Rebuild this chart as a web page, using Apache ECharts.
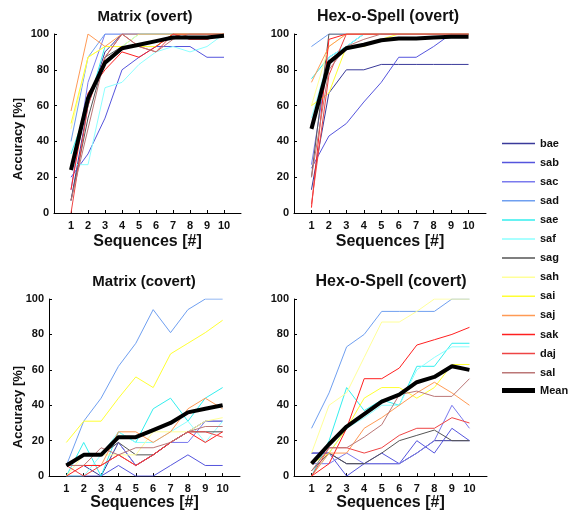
<!DOCTYPE html>
<html>
<head>
<meta charset="utf-8">
<script src="https://cdn.jsdelivr.net/npm/echarts@6/dist/echarts.min.js"></script>
<style>html,body{margin:0;padding:0;background:#fff}#c{width:568px;height:512px}</style>
</head>
<body>
<div id="c"></div>
<script>
var subjects = ['bae','sab','sac','sad','sae','saf','sag','sah','sai','saj','sak','daj','sal'];
var subjectColors = ['#3a3a9a','#5555dd','#7a7aee','#6f9ff0','#33eeee','#8cffff','#555555','#ffff99','#ffff33','#ff9a55','#ff2020','#ee4444','#bb7777'];
var sequences = [1,2,3,4,5,6,7,8,9,10];
var yTicks = [0,20,40,60,80,100];
var panelTitles = ['Matrix (overt)','Hex-o-Spell (overt)','Matrix (covert)','Hex-o-Spell (covert)'];

var matrixOvert = [
  [7,60,90,100,100,100,100,100,100,100],
  [20,33,53,80,87,93,93,93,87,87],
  [13,73,100,100,100,100,100,100,100,100],
  [40,87,100,100,100,100,100,100,100,100],
  [33,60,93,93,100,100,100,100,100,100],
  [27,27,70,73,83,90,93,90,93,100],
  [7,53,87,93,93,93,100,97,97,100],
  [47,87,93,93,100,100,100,100,100,100],
  [50,87,93,93,93,93,100,100,100,100],
  [57,100,93,100,100,100,100,100,100,100],
  [13,67,80,90,87,93,100,100,100,100],
  [0,60,87,100,93,90,100,97,97,100],
  [7,47,87,100,93,90,97,100,100,100]
];
var matrixOvertMean = [24,64,84,92,94,96,98,98,98,99];

var hexOvert = [
  [13,67,80,80,83,83,83,83,83,83],
  [25,43,50,62,73,87,87,93,100,100],
  [27,87,93,100,100,100,100,100,100,100],
  [93,100,100,100,100,100,100,100,100,100],
  [75,87,93,100,100,100,100,100,100,100],
  [53,87,93,100,100,100,100,100,100,100],
  [20,100,100,100,100,100,100,100,100,100],
  [60,93,100,100,100,100,100,100,100,100],
  [60,67,93,93,97,100,100,100,100,100],
  [73,93,100,100,100,100,100,100,100,100],
  [3,97,100,100,100,100,100,100,100,100],
  [5,77,100,100,100,100,100,100,100,100],
  [20,80,93,97,100,100,100,100,100,100]
];
var hexOvertMean = [47,84,92,94,96.5,97.5,97.5,98,98.5,98.5];

var matrixCovert = [
  [6,6,0,19,6,12,19,25,31,31],
  [0,0,0,6,0,0,6,12,6,6],
  [6,12,12,19,6,12,19,19,31,31],
  [6,31,44,62,75,94,81,94,100,100],
  [0,19,0,25,19,38,44,31,44,50],
  [0,0,12,25,19,19,25,31,19,31],
  [6,12,12,19,12,12,19,25,25,25],
  [0,12,12,12,12,25,25,25,31,33],
  [19,31,31,44,56,50,69,75,81,88],
  [6,6,6,25,25,19,25,38,44,38],
  [0,6,6,12,6,12,19,25,19,25],
  [6,0,6,12,6,12,19,25,25,22],
  [6,6,16,12,16,16,19,25,28,28]
];
var matrixCovertMean = [6,12,12,22,22,26,30,36,38,40];

var hexCovert = [
  [13,13,7,7,7,7,13,20,20,20],
  [13,13,0,7,13,7,20,13,27,20],
  [7,7,13,7,7,7,13,20,40,27],
  [27,47,73,80,93,93,93,93,100,100],
  [0,20,50,37,43,40,62,62,75,75],
  [0,13,27,33,40,40,60,67,73,73],
  [3,13,7,7,13,20,23,26,20,20],
  [13,40,47,67,87,87,93,100,100,100],
  [7,13,27,44,50,50,44,50,63,63],
  [0,13,13,27,33,40,47,53,47,40],
  [0,7,27,55,55,61,74,77,80,84],
  [0,16,16,13,16,23,27,27,33,30],
  [3,16,16,22,29,46,48,45,45,55]
];
var hexCovertMean = [7,18,28,35,42,46,53,56,62,60];

var panelData = [matrixOvert, hexOvert, matrixCovert, hexCovert];
var panelMeans = [matrixOvertMean, hexOvertMean, matrixCovertMean, hexCovertMean];

var FONT = '"Liberation Sans", Arial, Helvetica, sans-serif';
var grids = [
  {left: 54, top: 34, width: 187, height: 179},
  {left: 294, top: 34, width: 192, height: 179},
  {left: 49, top: 299, width: 191, height: 180},
  {left: 294, top: 299, width: 193, height: 180}
];
var xNameGaps = [21, 21, 18, 18];

var xAxes = [], yAxes = [], series = [];
for (var p = 0; p < 4; p++) {
  xAxes.push({
    gridIndex: p, type: 'value', min: 0, max: 11, interval: 1,
    name: 'Sequences [#]', nameLocation: 'middle', nameGap: xNameGaps[p],
    nameTextStyle: {fontFamily: FONT, fontSize: 16, fontWeight: 'bold', color: '#111'},
    axisLine: {show: true, onZero: false, lineStyle: {color: '#000', width: 1}},
    axisTick: {show: true, inside: true, length: 3, customValues: sequences, lineStyle: {color: '#000'}},
    axisLabel: {customValues: sequences, margin: 7, fontFamily: FONT, fontSize: 11, fontWeight: 'bold', color: '#111'},
    splitLine: {show: false}
  });
  yAxes.push({
    gridIndex: p, type: 'value', min: 0, max: 100, interval: 20,
    axisLine: {show: true, lineStyle: {color: '#000', width: 1}},
    axisTick: {show: true, inside: true, length: 3, lineStyle: {color: '#000'}},
    axisLabel: {customValues: yTicks, margin: 5, fontFamily: FONT, fontSize: 11, fontWeight: 'bold', color: '#111'},
    splitLine: {show: false}
  });
  for (var s = 0; s < subjects.length; s++) {
    series.push({
      name: subjects[s], type: 'line', xAxisIndex: p, yAxisIndex: p,
      showSymbol: false, symbol: 'none', animation: false,
      lineStyle: {width: 1, color: subjectColors[s]}, itemStyle: {color: subjectColors[s]},
      data: sequences.map(function (x, i) { return [x, panelData[p][s][i]]; })
    });
  }
  series.push({
    name: 'Mean', type: 'line', xAxisIndex: p, yAxisIndex: p, z: 5,
    showSymbol: false, symbol: 'none', animation: false,
    lineStyle: {width: 4, color: '#000'}, itemStyle: {color: '#000'},
    data: sequences.map(function (x, i) { return [x, panelMeans[p][i]]; })
  });
}

var titlePos = [[145,17],[388,17],[144,282],[391,282]];
var graphics = [];
for (var t = 0; t < 4; t++) {
  graphics.push({type: 'text', x: titlePos[t][0], y: titlePos[t][1],
    style: {text: panelTitles[t], align: 'center', verticalAlign: 'middle',
      font: (t % 2 === 0 ? 'bold 15px ' : 'bold 16px ') + FONT, fill: '#111'}});
}
graphics.push({type: 'text', x: 18, y: 139, rotation: Math.PI / 2,
  style: {text: 'Accuracy [%]', align: 'center', verticalAlign: 'middle', font: 'bold 13px ' + FONT, fill: '#111'}});
graphics.push({type: 'text', x: 18, y: 407, rotation: Math.PI / 2,
  style: {text: 'Accuracy [%]', align: 'center', verticalAlign: 'middle', font: 'bold 13px ' + FONT, fill: '#111'}});

var legendText = {fontFamily: FONT, fontSize: 11, fontWeight: 'bold', color: '#111'};
var chart = echarts.init(document.getElementById('c'), null, {renderer: 'canvas'});
chart.setOption({
  animation: false,
  backgroundColor: '#fff',
  grid: grids,
  xAxis: xAxes,
  yAxis: yAxes,
  series: series,
  graphic: graphics,
  legend: [{
    orient: 'vertical', left: 502, top: 138, padding: 0,
    data: subjects,
    icon: 'rect',
    itemWidth: 33, itemHeight: 1.5, itemGap: 8.1,
    textStyle: legendText,
    selectedMode: false
  }, {
    orient: 'vertical', left: 502, top: 385, padding: 0,
    data: ['Mean'],
    icon: 'rect',
    itemWidth: 33, itemHeight: 5,
    textStyle: legendText,
    selectedMode: false
  }]
});
</script>
</body>
</html>
